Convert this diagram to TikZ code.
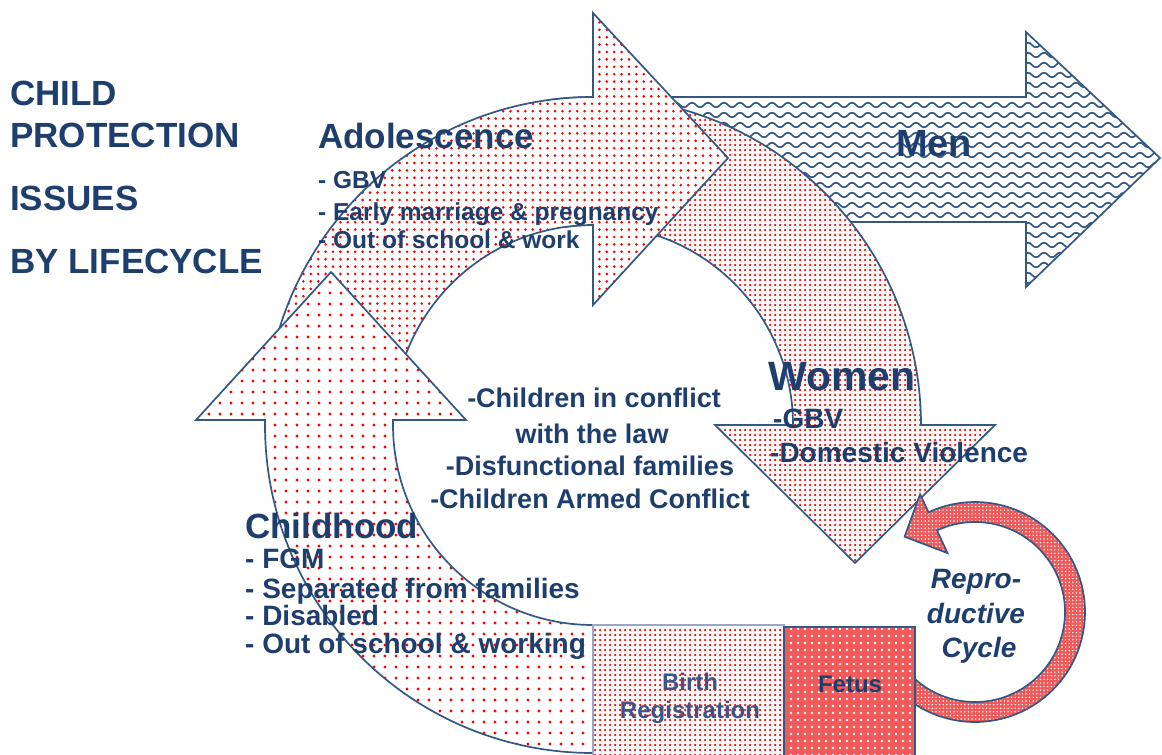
\documentclass[tikz,border=0pt]{standalone}
\usepackage{fontspec}
\setmainfont{Liberation Sans}
\usetikzlibrary{patterns,calc}

\definecolor{navy}{RGB}{30,62,110}
\definecolor{softnavy}{RGB}{60,85,135}
\definecolor{edge}{RGB}{52,88,132}
\definecolor{lightedge}{RGB}{150,170,200}
\definecolor{dotred}{RGB}{255,0,0}
\definecolor{fetusred}{RGB}{240,90,90}

% dot screens of different densities
\pgfdeclarepatternformonly{childdots}{\pgfqpoint{-2pt}{-2pt}}{\pgfqpoint{2pt}{2pt}}{\pgfqpoint{11pt}{11pt}}%
  {\pgfpathcircle{\pgfpointorigin}{1.6pt}\pgfusepath{fill}}
\pgfdeclarepatternformonly{teendots}{\pgfqpoint{-2pt}{-2pt}}{\pgfqpoint{2pt}{2pt}}{\pgfqpoint{7.4pt}{7.4pt}}%
  {\pgfpathcircle{\pgfpointorigin}{1.45pt}\pgfusepath{fill}}
\pgfdeclarepatternformonly{densedots}{\pgfqpoint{-2pt}{-2pt}}{\pgfqpoint{2pt}{2pt}}{\pgfqpoint{5pt}{5pt}}%
  {\pgfpathcircle{\pgfpointorigin}{1.25pt}\pgfusepath{fill}}
\pgfdeclarepatternformonly{whitedots}{\pgfqpoint{-2pt}{-2pt}}{\pgfqpoint{2pt}{2pt}}{\pgfqpoint{7pt}{7pt}}%
  {\pgfpathcircle{\pgfpointorigin}{1.3pt}\pgfusepath{fill}}
\pgfdeclarepatternformonly{finewhitedots}{\pgfqpoint{-1pt}{-1pt}}{\pgfqpoint{1pt}{1pt}}{\pgfqpoint{3.6pt}{3.6pt}}%
  {\pgfpathcircle{\pgfpointorigin}{0.8pt}\pgfusepath{fill}}
% rows of small waves
\pgfdeclarepatternformonly{waves}{\pgfqpoint{-1pt}{-4pt}}{\pgfqpoint{17pt}{4pt}}{\pgfqpoint{16pt}{10pt}}{%
  \pgfsetlinewidth{1.7pt}%
  \pgfpathmoveto{\pgfqpoint{0pt}{0pt}}%
  \pgfpathcurveto{\pgfqpoint{2.6pt}{3pt}}{\pgfqpoint{5.4pt}{3pt}}{\pgfqpoint{8pt}{0pt}}%
  \pgfpathcurveto{\pgfqpoint{10.6pt}{-3pt}}{\pgfqpoint{13.4pt}{-3pt}}{\pgfqpoint{16pt}{0pt}}%
  \pgfusepath{stroke}}

\begin{document}
\begin{tikzpicture}[x=1pt,y=-1pt,
  band/.style={preaction={fill=white}, draw=edge, line width=1.7pt, line join=miter},
  redband/.style={preaction={fill=fetusred}, draw=edge, line width=1.7pt, line join=miter},
  lbl/.style={text=navy, inner sep=0pt, anchor=base west},
  mid/.style={text=navy, inner sep=0pt, anchor=base},
  title/.style={lbl, font=\fontsize{35}{38}\selectfont\bfseries},
  head/.style={lbl, font=\fontsize{35}{40}\selectfont\bfseries},
]
\useasboundingbox (0,0) rectangle (1162,755);
\clip (0,0) rectangle (1162,755);

\coordinate (C) at (593,425);
\coordinate (R) at (975,612);

% Men: straight arrow with waves
\path[band, pattern=waves, pattern color=edge]
  (640,97) -- (1026,97) -- (1026,32) -- (1160,158) -- (1026,287) -- (1026,222) -- (640,222) -- cycle;

% Women: right quarter of the ring, ending in a downward head
\path[band, pattern=densedots, pattern color=dotred]
  ($(C)+(262:328)$) arc[start angle=262, end angle=360, radius=328]
  -- (995,425) -- (855,563) -- (715,425) -- ($(C)+(0:200)$)
  arc[start angle=360, end angle=262, radius=200] -- cycle;

% Adolescence: upper-left quarter, head pointing right
\path[band, pattern=teendots, pattern color=dotred]
  ($(C)+(180:328)$) arc[start angle=180, end angle=270, radius=328]
  -- (593,13) -- (728,158) -- (593,305) -- ($(C)+(270:200)$)
  arc[start angle=270, end angle=180, radius=200] -- cycle;

% Childhood: lower-left quarter, head pointing up
\path[band, pattern=childdots, pattern color=dotred]
  ($(C)+(180:328)$) arc[start angle=180, end angle=90, radius=328]
  -- ($(C)+(90:200)$) arc[start angle=90, end angle=180, radius=200]
  -- (393,420) -- (466,420) -- (331,272) -- (196,420) -- (265,420) -- cycle;

% Reproductive cycle: small ring arrow
\path[redband, pattern=finewhitedots, pattern color=white]
  ($(R)+(135:110)$) arc[start angle=135, end angle=-115, radius=110]
  -- ($(R)+(-115:130)$) -- ($(R)+(-115:98)+(155:32)$) -- ($(R)+(-115:65)$)
  -- ($(R)+(-115:90)$) arc[start angle=-115, end angle=135, radius=90] -- cycle;

% Birth registration and fetus blocks
\path[preaction={fill=white}, draw=lightedge, line width=1.5pt, pattern=densedots, pattern color=dotred]
  (593,625) rectangle (784,765);
\path[preaction={fill=fetusred}, draw=edge, line width=2.5pt, pattern=whitedots, pattern color=white]
  (784,627) rectangle (915,765);

% Title
\node[title] (t1) at (10,105) {CHILD};
\node[title] (t2) at (10,147) {PROTECTION};
\node[title] (t3) at (10,210) {ISSUES};
\node[title] (t4) at (10,273) {BY LIFECYCLE};

% Adolescence
\node[head] (adol) at (318,148) {Adolescence};
\node[lbl, font=\fontsize{24.5}{28}\selectfont\bfseries] (a1) at (318,188) {- GBV};
\node[lbl, font=\fontsize{24.5}{28}\selectfont\bfseries] (a2) at (318,220) {- Early marriage \& pregnancy};
\node[lbl, font=\fontsize{24.5}{28}\selectfont\bfseries] (a3) at (318,248) {- Out of school \& work};

% Men
\node[lbl, font=\fontsize{38}{40}\selectfont\bfseries] (men) at (896,156) {Men};

% Women
\node[lbl, font=\fontsize{41}{44}\selectfont\bfseries] (women) at (768,390) {Women};
\node[lbl, font=\fontsize{28}{30}\selectfont\bfseries] (w1) at (773,428) {-GBV};
\node[lbl, font=\fontsize{28}{30}\selectfont\bfseries] (w2) at (770,462) {-Domestic Violence};

% Issues in the middle of the ring
\node[mid, font=\fontsize{27}{30}\selectfont\bfseries] (c1) at (594,407) {-Children in conflict};
\node[mid, font=\fontsize{27}{30}\selectfont\bfseries] (c2) at (592,443) {with the law};
\node[mid, font=\fontsize{27}{30}\selectfont\bfseries] (c3) at (590,475) {-Disfunctional families};
\node[mid, font=\fontsize{27}{30}\selectfont\bfseries] (c4) at (590,508) {-Children Armed Conflict};

% Childhood
\node[head] (child) at (245,538) {Childhood};
\node[lbl, font=\fontsize{28}{30}\selectfont\bfseries] (h1) at (245,568) {- FGM};
\node[lbl, font=\fontsize{28}{30}\selectfont\bfseries] (h2) at (245,598) {- Separated from families};
\node[lbl, font=\fontsize{28}{30}\selectfont\bfseries] (h3) at (245,625) {- Disabled};
\node[lbl, font=\fontsize{28}{30}\selectfont\bfseries] (h4) at (245,653) {- Out of school \& working};

% Box labels
\node[mid, text=softnavy, font=\fontsize{24}{26}\selectfont\bfseries] (b1) at (690,690) {Birth};
\node[mid, text=softnavy, font=\fontsize{24}{26}\selectfont\bfseries] (b2) at (690,718) {Registration};
\node[mid, font=\fontsize{24}{26}\selectfont\bfseries] (fetus) at (850,692) {Fetus};

% Reproductive cycle label
\node[mid, font=\fontsize{28}{30}\selectfont\bfseries\itshape] (r1) at (976,588) {Repro-};
\node[mid, font=\fontsize{28}{30}\selectfont\bfseries\itshape] (r2) at (976,623) {ductive};
\node[mid, font=\fontsize{28}{30}\selectfont\bfseries\itshape] (r3) at (979,657) {Cycle};
\end{tikzpicture}
\end{document}
